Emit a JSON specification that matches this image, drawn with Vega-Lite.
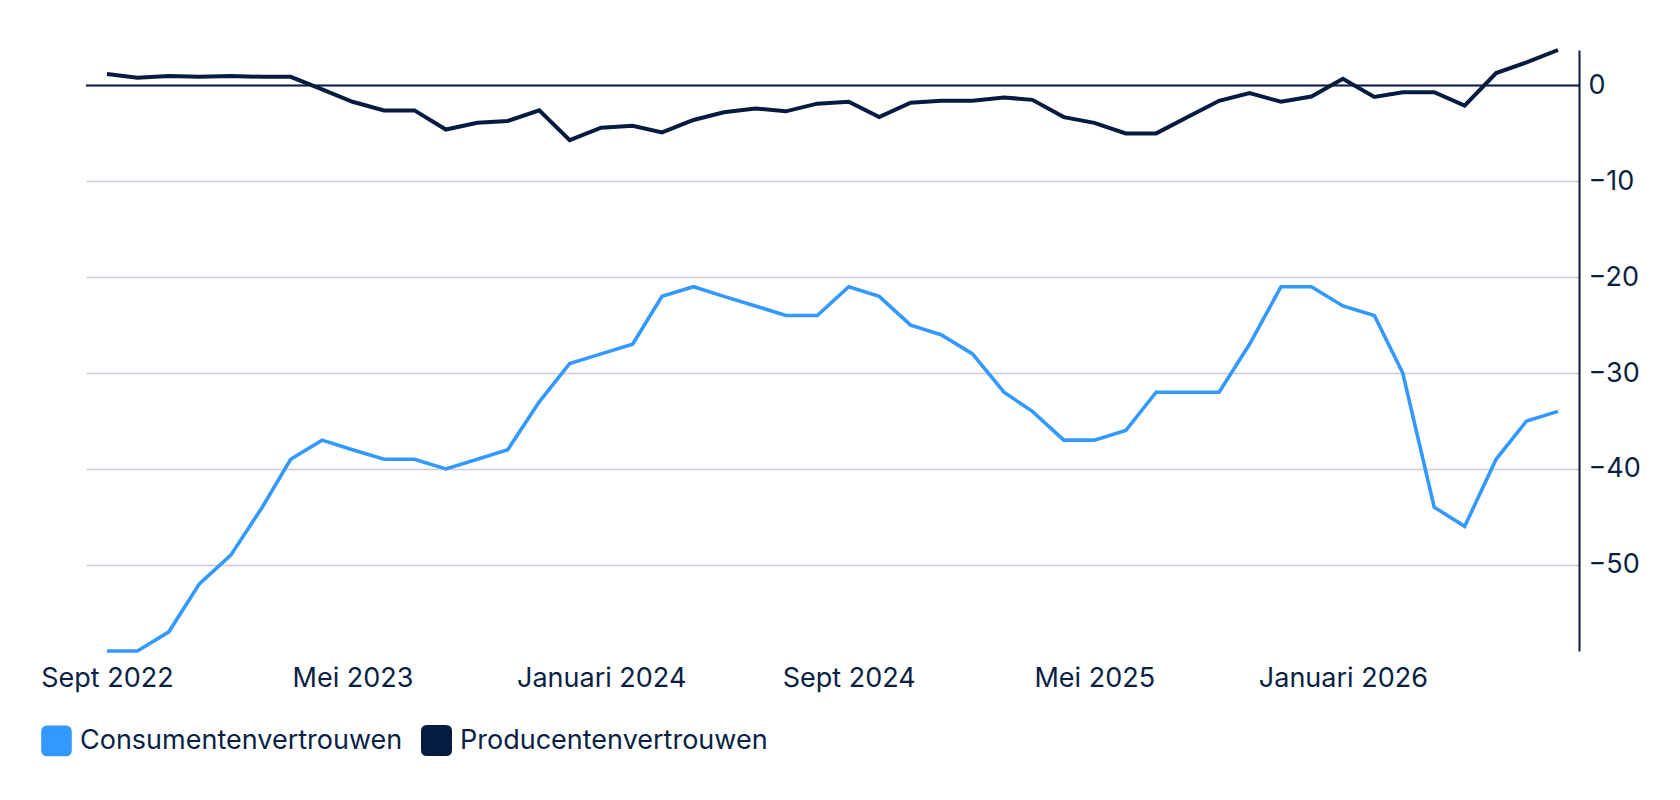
{
  "$schema": "https://vega.github.io/schema/vega-lite/v6.json",
  "description": "Consumentenvertrouwen en producentenvertrouwen, sept 2022 - aug 2026",
  "autosize": "none",
  "width": 1493,
  "height": 601,
  "padding": {"left": 86, "top": 50, "right": 101, "bottom": 149},
  "background": "#ffffff",
  "config": {
    "view": {"stroke": null},
    "font": "Inter",
    "axis": {"labelFont": "Inter", "labelFontSize": 27, "labelColor": "#0a1f44"},
    "legend": {"labelFont": "Inter"}
  },
  "datasets": {
    "zero": [{"v": 0}]
  },
  "data": {
    "values": [
      {"date": "2022-09-01", "series": "Consumentenvertrouwen", "value": -59},
      {"date": "2022-10-01", "series": "Consumentenvertrouwen", "value": -59},
      {"date": "2022-11-01", "series": "Consumentenvertrouwen", "value": -57},
      {"date": "2022-12-01", "series": "Consumentenvertrouwen", "value": -52},
      {"date": "2023-01-01", "series": "Consumentenvertrouwen", "value": -49},
      {"date": "2023-02-01", "series": "Consumentenvertrouwen", "value": -44},
      {"date": "2023-03-01", "series": "Consumentenvertrouwen", "value": -39},
      {"date": "2023-04-01", "series": "Consumentenvertrouwen", "value": -37},
      {"date": "2023-05-01", "series": "Consumentenvertrouwen", "value": -38},
      {"date": "2023-06-01", "series": "Consumentenvertrouwen", "value": -39},
      {"date": "2023-07-01", "series": "Consumentenvertrouwen", "value": -39},
      {"date": "2023-08-01", "series": "Consumentenvertrouwen", "value": -40},
      {"date": "2023-09-01", "series": "Consumentenvertrouwen", "value": -39},
      {"date": "2023-10-01", "series": "Consumentenvertrouwen", "value": -38},
      {"date": "2023-11-01", "series": "Consumentenvertrouwen", "value": -33},
      {"date": "2023-12-01", "series": "Consumentenvertrouwen", "value": -29},
      {"date": "2024-01-01", "series": "Consumentenvertrouwen", "value": -28},
      {"date": "2024-02-01", "series": "Consumentenvertrouwen", "value": -27},
      {"date": "2024-03-01", "series": "Consumentenvertrouwen", "value": -22},
      {"date": "2024-04-01", "series": "Consumentenvertrouwen", "value": -21},
      {"date": "2024-05-01", "series": "Consumentenvertrouwen", "value": -22},
      {"date": "2024-06-01", "series": "Consumentenvertrouwen", "value": -23},
      {"date": "2024-07-01", "series": "Consumentenvertrouwen", "value": -24},
      {"date": "2024-08-01", "series": "Consumentenvertrouwen", "value": -24},
      {"date": "2024-09-01", "series": "Consumentenvertrouwen", "value": -21},
      {"date": "2024-10-01", "series": "Consumentenvertrouwen", "value": -22},
      {"date": "2024-11-01", "series": "Consumentenvertrouwen", "value": -25},
      {"date": "2024-12-01", "series": "Consumentenvertrouwen", "value": -26},
      {"date": "2025-01-01", "series": "Consumentenvertrouwen", "value": -28},
      {"date": "2025-02-01", "series": "Consumentenvertrouwen", "value": -32},
      {"date": "2025-03-01", "series": "Consumentenvertrouwen", "value": -34},
      {"date": "2025-04-01", "series": "Consumentenvertrouwen", "value": -37},
      {"date": "2025-05-01", "series": "Consumentenvertrouwen", "value": -37},
      {"date": "2025-06-01", "series": "Consumentenvertrouwen", "value": -36},
      {"date": "2025-07-01", "series": "Consumentenvertrouwen", "value": -32},
      {"date": "2025-08-01", "series": "Consumentenvertrouwen", "value": -32},
      {"date": "2025-09-01", "series": "Consumentenvertrouwen", "value": -32},
      {"date": "2025-10-01", "series": "Consumentenvertrouwen", "value": -27},
      {"date": "2025-11-01", "series": "Consumentenvertrouwen", "value": -21},
      {"date": "2025-12-01", "series": "Consumentenvertrouwen", "value": -21},
      {"date": "2026-01-01", "series": "Consumentenvertrouwen", "value": -23},
      {"date": "2026-02-01", "series": "Consumentenvertrouwen", "value": -24},
      {"date": "2026-03-01", "series": "Consumentenvertrouwen", "value": -30},
      {"date": "2026-04-01", "series": "Consumentenvertrouwen", "value": -44},
      {"date": "2026-05-01", "series": "Consumentenvertrouwen", "value": -46},
      {"date": "2026-06-01", "series": "Consumentenvertrouwen", "value": -39},
      {"date": "2026-07-01", "series": "Consumentenvertrouwen", "value": -35},
      {"date": "2026-08-01", "series": "Consumentenvertrouwen", "value": -34},
      {"date": "2022-09-01", "series": "Producentenvertrouwen", "value": 1.2},
      {"date": "2022-10-01", "series": "Producentenvertrouwen", "value": 0.8},
      {"date": "2022-11-01", "series": "Producentenvertrouwen", "value": 1.0},
      {"date": "2022-12-01", "series": "Producentenvertrouwen", "value": 0.9},
      {"date": "2023-01-01", "series": "Producentenvertrouwen", "value": 1.0},
      {"date": "2023-02-01", "series": "Producentenvertrouwen", "value": 0.9},
      {"date": "2023-03-01", "series": "Producentenvertrouwen", "value": 0.9},
      {"date": "2023-04-01", "series": "Producentenvertrouwen", "value": -0.4},
      {"date": "2023-05-01", "series": "Producentenvertrouwen", "value": -1.7},
      {"date": "2023-06-01", "series": "Producentenvertrouwen", "value": -2.6},
      {"date": "2023-07-01", "series": "Producentenvertrouwen", "value": -2.6},
      {"date": "2023-08-01", "series": "Producentenvertrouwen", "value": -4.6},
      {"date": "2023-09-01", "series": "Producentenvertrouwen", "value": -3.9},
      {"date": "2023-10-01", "series": "Producentenvertrouwen", "value": -3.7},
      {"date": "2023-11-01", "series": "Producentenvertrouwen", "value": -2.6},
      {"date": "2023-12-01", "series": "Producentenvertrouwen", "value": -5.7},
      {"date": "2024-01-01", "series": "Producentenvertrouwen", "value": -4.4},
      {"date": "2024-02-01", "series": "Producentenvertrouwen", "value": -4.2},
      {"date": "2024-03-01", "series": "Producentenvertrouwen", "value": -4.9},
      {"date": "2024-04-01", "series": "Producentenvertrouwen", "value": -3.6},
      {"date": "2024-05-01", "series": "Producentenvertrouwen", "value": -2.8},
      {"date": "2024-06-01", "series": "Producentenvertrouwen", "value": -2.4},
      {"date": "2024-07-01", "series": "Producentenvertrouwen", "value": -2.7},
      {"date": "2024-08-01", "series": "Producentenvertrouwen", "value": -1.9},
      {"date": "2024-09-01", "series": "Producentenvertrouwen", "value": -1.7},
      {"date": "2024-10-01", "series": "Producentenvertrouwen", "value": -3.3},
      {"date": "2024-11-01", "series": "Producentenvertrouwen", "value": -1.8},
      {"date": "2024-12-01", "series": "Producentenvertrouwen", "value": -1.6},
      {"date": "2025-01-01", "series": "Producentenvertrouwen", "value": -1.6},
      {"date": "2025-02-01", "series": "Producentenvertrouwen", "value": -1.25},
      {"date": "2025-03-01", "series": "Producentenvertrouwen", "value": -1.5},
      {"date": "2025-04-01", "series": "Producentenvertrouwen", "value": -3.3},
      {"date": "2025-05-01", "series": "Producentenvertrouwen", "value": -3.9},
      {"date": "2025-06-01", "series": "Producentenvertrouwen", "value": -5.0},
      {"date": "2025-07-01", "series": "Producentenvertrouwen", "value": -5.0},
      {"date": "2025-08-01", "series": "Producentenvertrouwen", "value": -3.3},
      {"date": "2025-09-01", "series": "Producentenvertrouwen", "value": -1.6},
      {"date": "2025-10-01", "series": "Producentenvertrouwen", "value": -0.8},
      {"date": "2025-11-01", "series": "Producentenvertrouwen", "value": -1.7},
      {"date": "2025-12-01", "series": "Producentenvertrouwen", "value": -1.15},
      {"date": "2026-01-01", "series": "Producentenvertrouwen", "value": 0.7},
      {"date": "2026-02-01", "series": "Producentenvertrouwen", "value": -1.2},
      {"date": "2026-03-01", "series": "Producentenvertrouwen", "value": -0.7},
      {"date": "2026-04-01", "series": "Producentenvertrouwen", "value": -0.7},
      {"date": "2026-05-01", "series": "Producentenvertrouwen", "value": -2.1},
      {"date": "2026-06-01", "series": "Producentenvertrouwen", "value": 1.3},
      {"date": "2026-07-01", "series": "Producentenvertrouwen", "value": 2.4},
      {"date": "2026-08-01", "series": "Producentenvertrouwen", "value": 3.7}
    ]
  },
  "layer": [
    {
      "data": {"name": "zero"},
      "mark": {"type": "rule", "color": "#061b40", "strokeWidth": 2},
      "encoding": {
        "y": {"field": "v", "type": "quantitative"}
      }
    },
    {
      "mark": {"type": "line"},
      "encoding": {
        "x": {
          "field": "date",
          "type": "temporal",
          "scale": {"nice": false, "padding": 21},
          "axis": {
            "title": null,
            "grid": false,
            "domain": false,
            "ticks": false,
            "labelPadding": 14,
            "labelFlush": false,
            "labelOverlap": false,
            "values": [
              {"year": 2022, "month": 9, "date": 1, "utc": true},
              {"year": 2023, "month": 5, "date": 1, "utc": true},
              {"year": 2024, "month": 1, "date": 1, "utc": true},
              {"year": 2024, "month": 9, "date": 1, "utc": true},
              {"year": 2025, "month": 5, "date": 1, "utc": true},
              {"year": 2026, "month": 1, "date": 1, "utc": true}
            ],
            "labelExpr": "(utcmonth(datum.value) == 8 ? 'Sept ' : utcmonth(datum.value) == 4 ? 'Mei ' : 'Januari ') + utcyear(datum.value)"
          }
        },
        "y": {
          "field": "value",
          "type": "quantitative",
          "scale": {"domain": [-59, 3.7], "nice": false, "zero": false},
          "axis": {
            "orient": "right",
            "title": null,
            "values": [0, -10, -20, -30, -40, -50],
            "grid": true,
            "gridColor": "#c8ccd7",
            "gridWidth": 1.5,
            "ticks": false,
            "domain": true,
            "domainColor": "#061b40",
            "domainWidth": 2,
            "labelPadding": 9
          }
        },
        "color": {
          "field": "series",
          "type": "nominal",
          "scale": {
            "domain": ["Consumentenvertrouwen", "Producentenvertrouwen"],
            "range": ["#3399ff", "#061b40"]
          },
          "legend": {
            "title": null,
            "orient": "none",
            "legendX": -45,
            "legendY": 675,
            "direction": "horizontal",
            "symbolType": "M-0.7,-1H0.7Q1,-1 1,-0.7V0.7Q1,1 0.7,1H-0.7Q-1,1 -1,0.7V-0.7Q-1,-1 -0.7,-1Z",
            "symbolSize": 729,
            "symbolStrokeWidth": 0,
            "labelFontSize": 27,
            "labelColor": "#0a1f44",
            "labelLimit": 600,
            "labelOffset": 8,
            "columnPadding": 12,
            "encode": {
              "symbols": {
                "update": {
                  "fill": {"scale": "color", "field": "value"},
                  "fillOpacity": {"value": 1},
                  "strokeWidth": {"value": 0}
                }
              }
            }
          }
        },
        "strokeWidth": {
          "field": "series",
          "type": "nominal",
          "scale": {
            "domain": ["Consumentenvertrouwen", "Producentenvertrouwen"],
            "range": [3.6, 4]
          },
          "legend": null
        }
      }
    }
  ]
}
